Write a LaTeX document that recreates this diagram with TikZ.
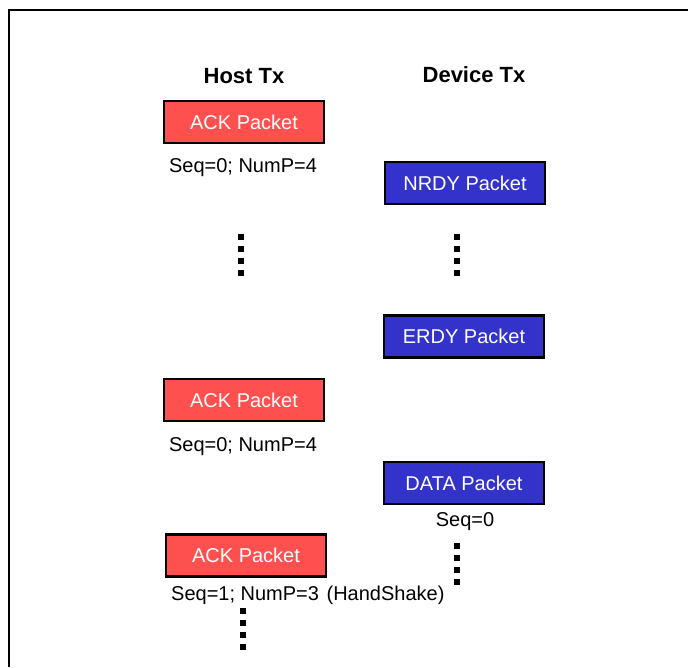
\documentclass[tikz,border=0pt]{standalone}
\usepackage{fontspec}
\setmainfont{Liberation Sans}
\definecolor{ackred}{RGB}{255,80,80}
\definecolor{devblue}{RGB}{51,51,204}
\tikzset{
  pkt/.style={draw=black, line width=2.2pt, minimum width=160pt, minimum height=42pt,
              inner sep=0pt, text=white, font=\fontsize{20}{24}\selectfont},
  hostpkt/.style={pkt, fill=ackred},
  devpkt/.style={pkt, fill=devblue},
  lbl/.style={font=\fontsize{20}{24}\selectfont, inner sep=0pt, anchor=base},
  hdr/.style={font=\bfseries\fontsize{22}{26}\selectfont, inner sep=0pt, anchor=base},
  vdots/.style={line width=6pt, dash pattern=on 6pt off 6pt}
}
\begin{document}
\begin{tikzpicture}[x=1pt, y=-1pt]
\useasboundingbox (0,0) rectangle (688,667);
% frame (open to the right and bottom)
\draw[line width=2pt] (9,667) -- (9,10) -- (688,10);
% headers
\node[hdr] (hostTx) at (244,83) {Host Tx};
\node[hdr] (devTx) at (474,82) {Device Tx};
% packets
\node[hostpkt] (ack1) at (244,122) {ACK Packet};
\node[devpkt] (nrdy) at (465,183) {NRDY Packet};
\node[devpkt] (erdy) at (464,336.5) {ERDY Packet};
\node[hostpkt] (ack2) at (244,400) {ACK Packet};
\node[devpkt] (data) at (464,483) {DATA Packet};
\node[hostpkt] (ack3) at (246,555.5) {ACK Packet};
% labels
\node[lbl] (seq1) at (243,172) {Seq=0; NumP=4};
\node[lbl] (seq2) at (243,451) {Seq=0; NumP=4};
\node[lbl] (seq3) at (465,526) {Seq=0};
\node[lbl, anchor=base west] (seq4) at (171,600) {Seq=1; NumP=3\hspace{2pt} (HandShake)};
% continuation dots
\draw[vdots] (241,234) -- (241,276);
\draw[vdots] (457,234) -- (457,276);
\draw[vdots] (457,543) -- (457,585);
\draw[vdots] (243,608) -- (243,650);
\end{tikzpicture}
\end{document}
